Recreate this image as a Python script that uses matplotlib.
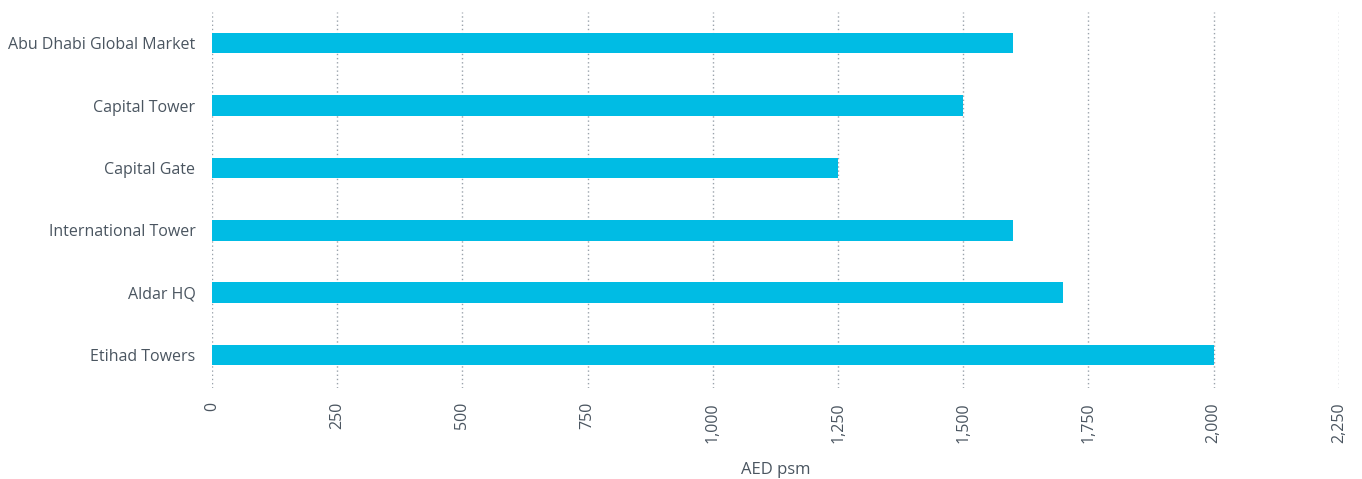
#!/usr/bin/env python3

import matplotlib
matplotlib.use("Agg")
import matplotlib.pyplot as plt
from matplotlib.ticker import FuncFormatter

# towers listed bottom-to-top as drawn
towers = ["Etihad Towers", "Aldar HQ", "International Tower",
          "Capital Gate", "Capital Tower", "Abu Dhabi Global Market"]
rents = [2000, 1700, 1600, 1250, 1500, 1600]
x_ticks = [0, 250, 500, 750, 1000, 1250, 1500, 1750, 2000, 2250]

plt.rcParams["font.family"] = ["Open Sans", "DejaVu Sans"]
text_color = "#4a5560"

fig = plt.figure(figsize=(13.62, 4.79), dpi=100)
ax = fig.add_axes([0.1557, 0.19, 0.8273, 0.785])

ax.barh(range(len(towers)), rents, height=0.33, color="#00bce4", zorder=3)

ax.set_xlim(0, 2250)
ax.set_ylim(-0.53, 5.5)
ax.set_xticks(x_ticks)
ax.xaxis.set_major_formatter(FuncFormatter(lambda v, _: f"{int(v):,}"))
ax.set_yticks(range(len(towers)))
ax.set_yticklabels(towers)

ax.tick_params(axis="x", labelrotation=90, length=0, pad=10,
               labelsize=11.5, labelcolor=text_color)
ax.tick_params(axis="y", length=0, pad=12, labelsize=11.5,
               labelcolor=text_color)

ax.grid(axis="x", linestyle=(0, (1, 2)), color="#9aa3ab", linewidth=1, zorder=0)
ax.grid(axis="y", visible=False)
for side in ax.spines.values():
    side.set_visible(False)

ax.set_xlabel("AED psm", fontsize=12, color=text_color, labelpad=14)

fig.savefig("out.png", dpi=100)
